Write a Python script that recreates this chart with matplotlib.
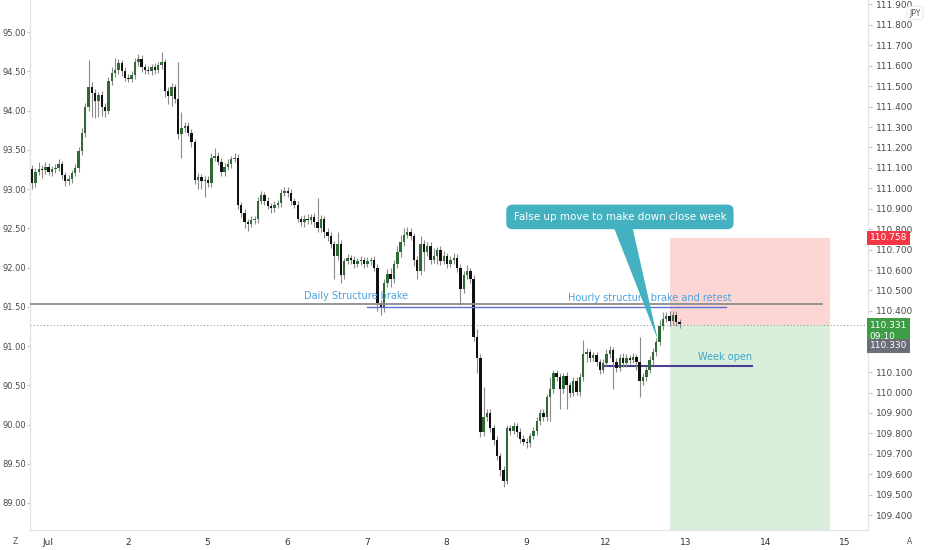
import numpy as np
import matplotlib.pyplot as plt
from matplotlib.patches import Polygon, Rectangle

# hourly candles, closes on the left scale (opens follow previous close)
first_open = 93.25
start_day = -0.2
closes = [
    93.08, 93.22, 93.26, 93.24, 93.28, 93.22, 93.25, 93.27, 93.32, 93.18,
    93.10, 93.13, 93.20, 93.27, 93.48, 93.72, 94.05, 94.30, 94.22, 94.12,
    94.20, 94.05, 94.00, 94.38, 94.48, 94.52, 94.60, 94.50, 94.42, 94.40,
    94.45, 94.62, 94.66, 94.55, 94.52, 94.50, 94.55, 94.52, 94.58, 94.62,
    94.25, 94.18, 94.30, 94.15, 93.70, 93.78, 93.80, 93.72, 93.60, 93.12,
    93.15, 93.10, 93.12, 93.08, 93.40, 93.42, 93.35, 93.22, 93.28, 93.32,
    93.38, 93.40, 92.80, 92.70, 92.58, 92.56, 92.60, 92.62, 92.85, 92.92,
    92.85, 92.78, 92.76, 92.80, 92.82, 92.95, 92.98, 92.95, 92.85, 92.80,
    92.62, 92.58, 92.62, 92.60, 92.64, 92.58, 92.50, 92.62, 92.45, 92.40,
    92.30, 92.15, 92.30, 91.90, 92.08, 92.12, 92.10, 92.05, 92.08, 92.10,
    92.05, 92.08, 92.10, 92.00, 91.55, 91.48, 91.80, 91.92, 91.85, 92.05,
    92.20, 92.32, 92.42, 92.45, 92.40, 92.10, 91.95, 92.30, 92.20, 92.28,
    92.10, 92.15, 92.22, 92.08, 92.15, 92.05, 92.10, 92.12, 92.00, 91.72,
    91.90, 91.95, 91.85, 91.12, 90.85, 89.90, 90.10, 90.15, 89.95, 89.80,
    89.60, 89.42, 89.28, 89.95, 89.92, 89.98, 89.90, 89.82, 89.78, 89.76,
    89.85, 89.92, 90.05, 90.15, 90.10, 90.35, 90.45, 90.65, 90.60, 90.45,
    90.62, 90.50, 90.40, 90.55, 90.42, 90.60, 90.90, 90.92, 90.85, 90.88,
    90.80, 90.70, 90.78, 90.90, 90.95, 90.80, 90.72, 90.85, 90.78, 90.85,
    90.82, 90.86, 90.80, 90.55, 90.60, 90.70, 90.82, 90.92, 91.05, 91.25,
    91.35, 91.38, 91.32, 91.40, 91.30, 91.28,
]
upper_wick = [
    .05, .05, .08, .04, .06, .05, .04, .05, .06, .04,
    .04, .05, .04, .05, .05, .06, .05, .34, .06, .05,
    .04, .05, .04, .05, .08, .15, .05, .04, .05, .04,
    .05, .05, .06, .05, .04, .05, .04, .05, .04, .13,
    .04, .05, .05, .04, .47, .20, .05, .06, .05, .04,
    .05, .04, .05, .04, .06, .10, .05, .04, .05, .06,
    .04, .06, .05, .04, .05, .04, .05, .04, .05, .06,
    .04, .05, .04, .05, .04, .05, .05, .04, .05, .04,
    .05, .04, .05, .06, .04, .05, .30, .05, .04, .05,
    .05, .04, .15, .05, .04, .05, .04, .05, .04, .05,
    .04, .05, .04, .05, .05, .04, .05, .06, .08, .05,
    .08, .10, .08, .06, .05, .04, .05, .10, .05, .04,
    .05, .10, .04, .05, .06, .04, .05, .06, .05, .04,
    .05, .08, .04, .05, .10, .05, .38, .05, .05, .04,
    .05, .04, .05, .05, .04, .05, .04, .05, .04, .05,
    .04, .05, .04, .05, .05, .04, .15, .05, .04, .05,
    .04, .05, .04, .05, .05, .06, .18, .05, .04, .05,
    .05, .04, .05, .06, .05, .04, .05, .05, .06, .05,
    .04, .05, .04, .31, .05, .04, .05, .06, .05, .08,
    .08, .05, .06, .04, .05, .04,
]
lower_wick = [
    .08, .05, .04, .10, .05, .04, .05, .05, .04, .05,
    .06, .05, .05, .04, .05, .05, .06, .05, .30, .22,
    .20, .12, .08, .05, .06, .05, .05, .06, .05, .04,
    .04, .05, .05, .06, .05, .04, .05, .05, .04, .05,
    .08, .10, .12, .05, .06, .30, .05, .05, .06, .06,
    .12, .10, .20, .05, .05, .04, .05, .06, .05, .04,
    .05, .04, .05, .06, .08, .10, .05, .04, .05, .04,
    .05, .04, .06, .05, .04, .05, .04, .05, .05, .04,
    .04, .05, .06, .04, .05, .06, .05, .05, .08, .06,
    .05, .30, .05, .10, .05, .04, .05, .06, .04, .05,
    .05, .04, .05, .05, .10, .08, .05, .05, .10, .05,
    .05, .06, .05, .04, .05, .08, .10, .05, .25, .05,
    .05, .04, .10, .05, .04, .05, .04, .05, .06, .20,
    .05, .04, .05, .06, .20, .06, .05, .05, .05, .06,
    .05, .08, .08, .04, .05, .04, .06, .05, .04, .06,
    .05, .04, .05, .06, .05, .05, .30, .05, .04, .25,
    .05, .30, .05, .04, .05, .06, .05, .10, .05, .04,
    .05, .06, .05, .04, .05, .35, .05, .04, .05, .05,
    .05, .04, .10, .20, .05, .04, .05, .06, .05, .04,
    .05, .04, .06, .05, .04, .05,
]

day_labels = ['Jul', '2', '5', '6', '7', '8', '9', '12', '13', '14', '15']
left_ticks = [89.0, 89.5, 90.0, 90.5, 91.0, 91.5, 92.0, 92.5, 93.0, 93.5, 94.0, 94.5, 95.0]
right_ticks = [109.4, 109.5, 109.6, 109.7, 109.8, 109.9, 110.0, 110.1, 110.2, 110.3,
               110.4, 110.5, 110.6, 110.7, 110.8, 110.9, 111.0, 111.1, 111.2, 111.3,
               111.4, 111.5, 111.6, 111.7, 111.8, 111.9]
hidden_right = [110.2, 110.3]   # covered by the price labels

# drawing levels
daily_level = 91.535      # left scale
hourly_level = 91.497     # left scale
stop_price = 110.758      # right scale
entry_price = 110.331
last_price = 110.330
week_open = 110.13

L_LIM = (88.656, 95.408)
R_LIM = (109.327, 111.922)


def to_left(r):
    # right-scale price -> left-scale value (same pixel)
    return L_LIM[0] + (r - R_LIM[0]) * (L_LIM[1] - L_LIM[0]) / (R_LIM[1] - R_LIM[0])


def px(xp):
    # pixel column -> day position
    return (xp - 48) / 79.7


# ---- figure ----
W, H = 932, 550
fig = plt.figure(figsize=(W / 100, H / 100), dpi=100)
ax = fig.add_axes([30 / W, 20 / H, 838 / W, 530 / H])
ax.set_xlim(-0.226, 10.29)
ax.set_ylim(*L_LIM)
ax2 = ax.twinx()
ax2.set_ylim(*R_LIM)
# candles and drawings in front of the position boxes
ax.set_zorder(ax2.get_zorder() + 1)
ax.patch.set_visible(False)

for a in (ax, ax2):
    for s in a.spines.values():
        s.set_color('#e0e3eb')
        s.set_linewidth(0.8)
    a.spines['top'].set_visible(False)
ax.spines['right'].set_visible(False)

# long/short position boxes (behind)
x0, x1 = px(670), px(830)
ax2.add_patch(Rectangle((x0, entry_price), x1 - x0, stop_price - entry_price,
                        fc='#fdd6d4', ec='none', zorder=1))
ax2.add_patch(Rectangle((x0, 108.5), x1 - x0, entry_price - 108.5,
                        fc='#d9eedb', ec='none', zorder=1))
ax2.axhline(entry_price, color='#9a9a9a', lw=0.8, ls=(0, (1, 2)), zorder=5)
ax2.plot([px(605), px(752)], [week_open] * 2, color='#4b3f94', lw=1.5, zorder=5)

# candles
n = len(closes)
x = start_day + np.arange(n) / 24
c = np.array(closes)
o = np.array([first_open] + closes[:-1])
hi = np.maximum(o, c) + np.array(upper_wick)
lo = np.minimum(o, c) - np.array(lower_wick)
up = c >= o
ax.vlines(x, lo, hi, color='#8a8a8a', lw=0.8, zorder=3)
body = np.maximum(np.abs(c - o), 0.012)
ax.bar(x, body, bottom=np.minimum(o, c), width=0.03,
       color=np.where(up, '#2f6a35', '#111111'), zorder=4)

# structure lines
ax.plot([-0.226, px(822)], [daily_level] * 2, color='#8c8c8c', lw=1.3, zorder=5)
ax.plot([px(367), px(726)], [hourly_level] * 2, color='#5b72d6', lw=1.0, zorder=5)

txt_blue = '#4aa3df'
ax.text(px(356), daily_level + 0.04, 'Daily Structure brake', color=txt_blue,
        fontsize=7, ha='center', va='bottom', zorder=6)
ax.text(px(650), daily_level + 0.01, 'Hourly structure brake and retest', color=txt_blue,
        fontsize=7, ha='center', va='bottom', zorder=6)
ax.text(px(725), to_left(week_open + 0.02), 'Week open', color='#3aa6c9',
        fontsize=7, ha='center', va='bottom', zorder=6)

# callout
teal = '#43b1bf'
ax.add_patch(Polygon([(px(613), to_left(110.82)), (px(632), to_left(110.82)),
                      (px(658), to_left(110.257))], closed=True, fc=teal, ec='none', zorder=7))
ax.text(px(620), to_left(110.86), 'False up move to make down close week', color='white',
        fontsize=7.5, ha='center', va='center', zorder=8,
        bbox=dict(boxstyle='round,pad=0.7,rounding_size=0.6', fc=teal, ec='none'))

# axes ticks
ax.set_xticks(range(len(day_labels)))
ax.set_xticklabels(day_labels)
ax.tick_params(axis='x', length=0, pad=6, labelsize=6.5, labelcolor='#333333')
ax.set_yticks(left_ticks)
ax.set_yticklabels([f'{t:.2f}' for t in left_ticks])
ax.tick_params(axis='y', length=2, pad=1, labelsize=6, labelcolor='#4a4a4a', color='#c8c8c8')
ax2.set_yticks(right_ticks)
ax2.set_yticklabels(['' if t in hidden_right else f'{t:.3f}' for t in right_ticks])
ax2.tick_params(axis='y', length=3, pad=3, labelsize=6.5, labelcolor='#4a4a4a', color='#c8c8c8')

# price labels on the right scale
lab = ax2.get_yaxis_transform()
ax2.text(1.002, stop_price, '110.758', transform=lab, color='white', fontsize=6.5, va='center',
         ha='left', zorder=10, clip_on=False,
         bbox=dict(boxstyle='square,pad=0.3', fc='#f23645', ec='none'))
ax2.text(1.002, entry_price + 0.02, '110.331\n09:10', transform=lab, color='white', fontsize=6.5,
         va='top', ha='left', zorder=10, clip_on=False, linespacing=1.3,
         bbox=dict(boxstyle='square,pad=0.3', fc='#3e9c45', ec='none'))
ax2.text(1.002, 110.228, '110.330', transform=lab, color='white', fontsize=6.5, va='center',
         ha='left', zorder=10, clip_on=False,
         bbox=dict(boxstyle='square,pad=0.3', fc='#6b6e78', ec='none'))

# corner bits
small_box = dict(boxstyle='round,pad=0.3', fc='white', ec='#e0e3eb', lw=0.6)
fig.text(915 / W, 1 - 13 / H, 'JPY', fontsize=5.5, color='#555555', ha='center', va='center', bbox=small_box)
fig.text(15 / W, 1 - 541 / H, 'Z', fontsize=5.5, color='#555555', ha='center', va='center')
fig.text(910 / W, 1 - 541 / H, 'A', fontsize=5.5, color='#555555', ha='center', va='center')

fig.savefig('out.png', dpi=100)
